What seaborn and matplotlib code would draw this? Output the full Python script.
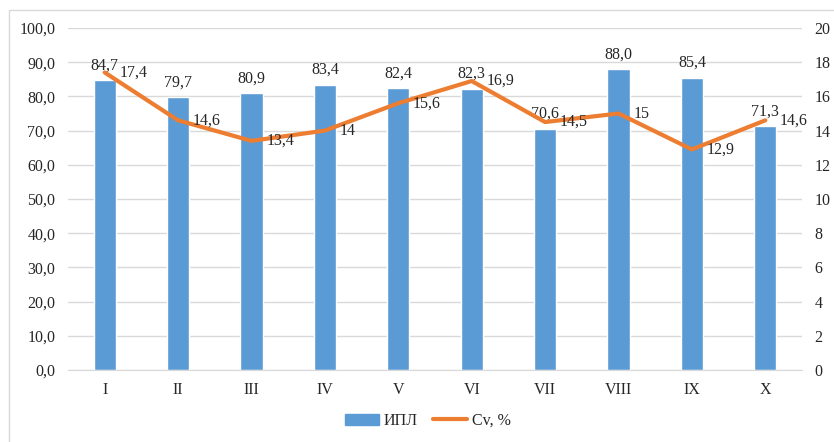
import matplotlib as mpl
mpl.use('Agg')
import matplotlib.pyplot as plt
import matplotlib.patches as mpatches
from matplotlib.lines import Line2D
import seaborn as sns
import pandas as pd

categories = ['I', 'II', 'III', 'IV', 'V', 'VI', 'VII', 'VIII', 'IX', 'X']
ipl = [84.7, 79.7, 80.9, 83.4, 82.4, 82.3, 70.6, 88.0, 85.4, 71.3]
cv = [17.4, 14.6, 13.4, 14, 15.6, 16.9, 14.5, 15, 12.9, 14.6]
cv_labels = ['17,4', '14,6', '13,4', '14', '15,6', '16,9', '14,5', '15', '12,9', '14,6']

sns.set_style('white')
plt.rcParams['font.family'] = ['Liberation Serif', 'DejaVu Serif']
fs = 11.5

blue = '#5B9BD5'
orange = '#ED7D31'
grid = '#D9D9D9'
txt = '#262626'

df = pd.DataFrame({'cat': categories, 'ipl': ipl, 'cv': cv})

fig = plt.figure(figsize=(8.34, 4.42), dpi=100)
# outer chart frame, only left and top edges fall inside the picture
fig.patches.append(mpatches.Rectangle((9 / 834, -0.1), 1.1, 1.1 - 10 / 442, transform=fig.transFigure,
                                      fill=False, edgecolor=grid, linewidth=1))
ax = fig.add_axes([68 / 834, 1 - 370 / 442, (802 - 68) / 834, (370 - 28) / 442])

sns.barplot(data=df, x='cat', y='ipl', color=blue, width=0.3, saturation=1, ax=ax, zorder=2)
ax.set_ylim(0, 100)
ax.set_xlim(-0.5, 9.5)
ax.set_yticks(range(0, 101, 10))
ax.set_yticklabels([f'{v},0' for v in range(0, 101, 10)])
ax.yaxis.grid(True, color=grid, linewidth=1, zorder=0)
ax.set_axisbelow(True)
for s in ['top', 'right', 'left']:
    ax.spines[s].set_visible(False)
ax.spines['bottom'].set_color(grid)
ax.tick_params(length=0, colors=txt, labelsize=fs)
ax.tick_params(axis='y', pad=9)
ax.tick_params(axis='x', pad=9)
ax.set_xlabel('')
ax.set_ylabel('')
for i, v in enumerate(ipl):
    ax.text(i, v + 2.0, f'{v:.1f}'.replace('.', ','), ha='center', va='bottom', fontsize=fs, color=txt)

ax2 = ax.twinx()
sns.lineplot(x=list(range(len(categories))), y=cv, color=orange, linewidth=3, ax=ax2)
ax2.set_ylim(0, 20)
ax2.set_yticks(range(0, 21, 2))
ax2.set_xlim(-0.5, 9.5)
for s in ['top', 'right', 'left', 'bottom']:
    ax2.spines[s].set_visible(False)
ax2.tick_params(length=0, colors=txt, labelsize=fs, pad=9)
ax2.set_ylabel('')
for i, (v, lab) in enumerate(zip(cv, cv_labels)):
    ax2.text(i + 0.2, v, lab, ha='left', va='center', fontsize=fs, color=txt)

handles = [mpatches.Patch(color=blue, label='ИПЛ'),
           Line2D([0], [0], color=orange, linewidth=3, label='Cv, %')]
fig.legend(handles=handles, loc='center', bbox_to_anchor=(0.513, 1 - 421 / 442), ncol=2,
           frameon=False, fontsize=fs, handlelength=2.1, handleheight=0.7,
           columnspacing=1.0, handletextpad=0.3)

fig.savefig('out.png', dpi=100)
